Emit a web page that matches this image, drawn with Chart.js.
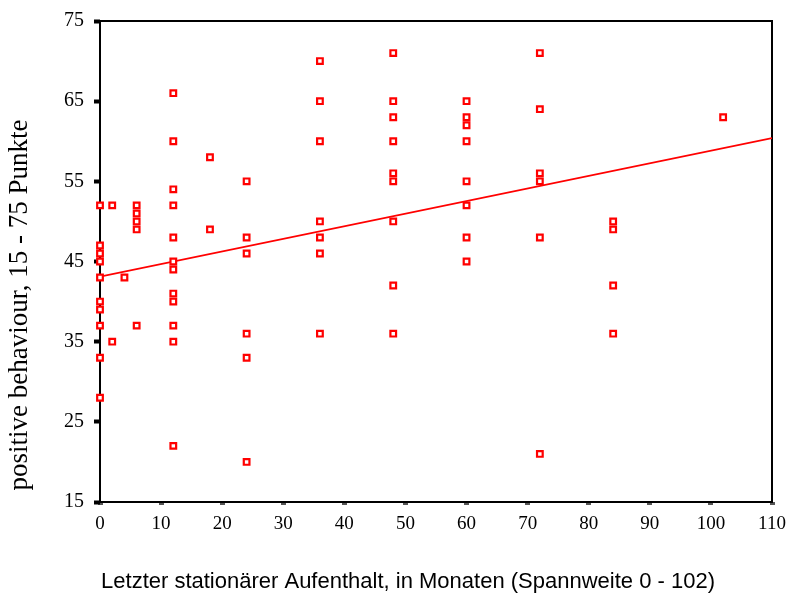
<!DOCTYPE html>
<html>
<head>
<meta charset="utf-8">
<script src="https://cdn.jsdelivr.net/npm/chart.js@4/dist/chart.umd.min.js"></script>
<style>
  body { margin: 0; background: #fff; }
  canvas { display: block; }
</style>
</head>
<body>
<canvas id="chart" width="788" height="593"></canvas>
<script>
// months since last inpatient stay, paired with behaviour score
const months = [
    0, 0, 0, 0, 0, 0, 0, 0, 0, 0,
    2, 2,
    4,
    6, 6, 6, 6, 6,
    12, 12, 12, 12, 12, 12, 12, 12, 12, 12, 12, 12,
    18, 18,
    24, 24, 24, 24, 24, 24,
    36, 36, 36, 36, 36, 36, 36,
    48, 48, 48, 48, 48, 48, 48, 48, 48,
    60, 60, 60, 60, 60, 60, 60, 60,
    72, 72, 72, 72, 72, 72,
    84, 84, 84, 84,
    102
];
const behaviour = [
    52, 47, 46, 45, 43, 40, 39, 37, 33, 28,
    52, 35,
    43,
    52, 51, 50, 49, 37,
    66, 60, 54, 52, 48, 45, 44, 41, 40, 37, 35, 22,
    58, 49,
    55, 48, 46, 36, 33, 20,
    70, 65, 60, 50, 48, 46, 36,
    71, 65, 63, 60, 56, 55, 50, 42, 36,
    65, 63, 62, 60, 55, 52, 48, 45,
    71, 64, 56, 55, 48, 21,
    50, 49, 42, 36,
    63
];

// fitted line at both ends
const fitX = [0, 110];
const fitY = [43.1, 60.4];

const xTitle = 'Letzter stationärer Aufenthalt, in Monaten (Spannweite 0 - 102)';
const yTitle = 'positive behaviour, 15 - 75 Punkte';

const points = months.map((m, i) => ({ x: m, y: behaviour[i] }));
const fitPoints = fitX.map((x, i) => ({ x: x, y: fitY[i] }));

// box around the plot and the two axis titles
const framePlugin = {
    id: 'frame',
    beforeDatasetsDraw(chart) {
        const { ctx, chartArea: a } = chart;
        ctx.save();
        ctx.strokeStyle = '#000';
        ctx.lineWidth = 2;
        ctx.strokeRect(a.left, a.top, a.right - a.left, a.bottom - a.top);
        ctx.restore();
    },
    afterDraw(chart) {
        const ctx = chart.ctx;
        ctx.save();
        ctx.fillStyle = '#000';
        ctx.textAlign = 'center';
        ctx.textBaseline = 'middle';
        ctx.font = '22px "Liberation Sans", Arial, sans-serif';
        ctx.fillText(xTitle, 408, 582);
        ctx.translate(20, 305);
        ctx.rotate(-Math.PI / 2);
        ctx.font = '27px "Liberation Serif", "Times New Roman", serif';
        ctx.fillText(yTitle, 0, 0);
        ctx.restore();
    }
};

new Chart(document.getElementById('chart').getContext('2d'), {
    type: 'scatter',
    data: {
        datasets: [
            {
                label: 'Fit',
                type: 'line',
                data: fitPoints,
                borderColor: '#ff0000',
                borderWidth: 1.8,
                pointRadius: 0,
                fill: false,
                order: 2
            },
            {
                label: 'positive behaviour',
                data: points,
                pointStyle: 'rect',
                pointRadius: 4,
                pointBorderWidth: 2.2,
                pointBackgroundColor: '#ffffff',
                pointBorderColor: '#ff0000',
                clip: false,
                order: 1
            }
        ]
    },
    options: {
        responsive: false,
        animation: false,
        layout: { padding: { left: 0, top: 21, right: 16, bottom: 0 } },
        scales: {
            x: {
                type: 'linear',
                min: 0,
                max: 110,
                afterFit: s => { s.height = 91; s.paddingLeft = 0; s.paddingRight = 0; },
                ticks: {
                    stepSize: 10,
                    color: '#000',
                    padding: 8,
                    maxRotation: 0,
                    font: { family: '"Liberation Serif", "Times New Roman", serif', size: 19 }
                },
                grid: { drawOnChartArea: false, tickLength: 3, tickWidth: 5, tickColor: '#555' },
                border: { display: false }
            },
            y: {
                type: 'linear',
                min: 15,
                max: 75,
                afterFit: s => { s.width = 100; s.paddingTop = 0; s.paddingBottom = 0; },
                ticks: {
                    stepSize: 10,
                    color: '#000',
                    padding: 10,
                    font: { family: '"Liberation Serif", "Times New Roman", serif', size: 20 }
                },
                grid: { drawOnChartArea: false, tickLength: 6, tickWidth: 4, tickColor: '#000' },
                border: { display: false }
            }
        },
        plugins: {
            legend: { display: false },
            tooltip: { enabled: false }
        }
    },
    plugins: [framePlugin]
});
</script>
</body>
</html>
